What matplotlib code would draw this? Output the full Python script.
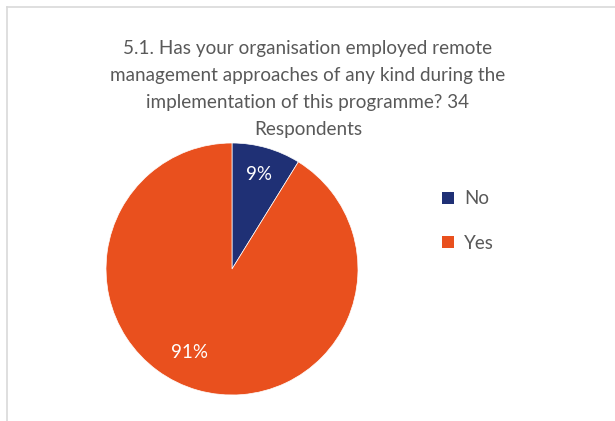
import numpy as np
import matplotlib
matplotlib.use("Agg")
import matplotlib.pyplot as plt
from matplotlib.lines import Line2D
from matplotlib.patches import Patch

categories = ["No", "Yes"]
counts = [3, 31]
colors = ["#1F3075", "#E9501E"]
title = ("5.1. Has your organisation employed remote\n"
         "management approaches of any kind during the\n"
         "implementation of this programme? 34\n"
         "Respondents")

plt.rcParams['font.family'] = ['Lato', 'DejaVu Sans']

W, H = 615, 421
fig = plt.figure(figsize=(W / 100, H / 100), dpi=100)
fig.patch.set_facecolor("white")

# frame lines
fig.add_artist(Line2D([7 / W, 1.0], [1 - 7 / H, 1 - 7 / H], color="#D9D9D9", lw=1.2))
fig.add_artist(Line2D([7 / W, 7 / W], [0, 1 - 7 / H], color="#D9D9D9", lw=1.2))

cx, cy, r = 232, 269, 126
ax = fig.add_axes([(cx - r) / W, (H - cy - r) / H, 2 * r / W, 2 * r / H])
wedges, texts, autotexts = ax.pie(
    counts, colors=colors, startangle=90, counterclock=False,
    autopct=lambda p: f"{p:.0f}%", pctdistance=0.78,
    textprops=dict(color="white", fontsize=13.5),
    wedgeprops=dict(linewidth=0.5, edgecolor="white"))
ax.set_xlim(-1, 1)
ax.set_ylim(-1, 1)
ax.set_aspect("equal")

# reposition the large slice label (best-fit style placement)
ang = np.deg2rad(-117)
autotexts[1].set_position((0.74 * np.cos(ang), 0.74 * np.sin(ang)))

fig.text(308 / W, 1 - 89 / H, title, ha="center", va="center",
         fontsize=13.6, color="#595959", linespacing=1.72)

handles = [Patch(facecolor=c, edgecolor="none") for c in colors]
fig.legend(handles, categories, loc="center left",
           bbox_to_anchor=(425 / W, 1 - 221 / H), frameon=False,
           fontsize=13.5, labelcolor="#595959", handlelength=0.65,
           handleheight=0.65, handletextpad=0.55, labelspacing=1.45)

fig.savefig("out.png", dpi=100, facecolor="white")
